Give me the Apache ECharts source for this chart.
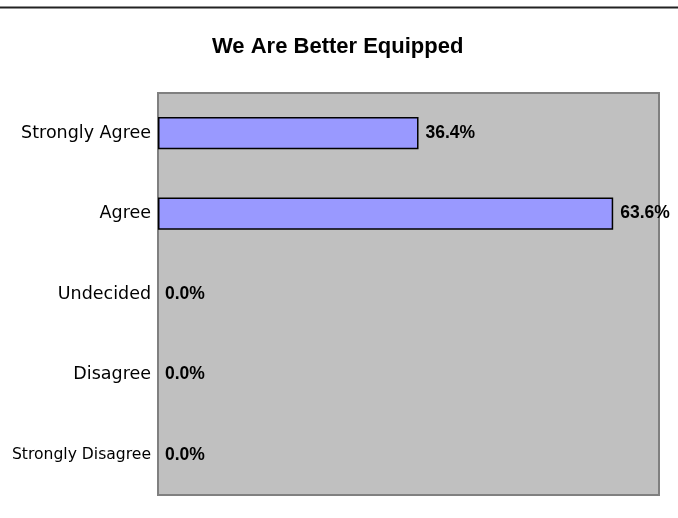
<!DOCTYPE html>
<html><head><meta charset="utf-8">
<script src="https://cdn.jsdelivr.net/npm/echarts@6/dist/echarts.min.js"></script>
<style>html,body{margin:0;padding:0;background:#fff}#c{width:678px;height:518px}</style>
</head><body><div id="c"></div>
<script>
const categories = ["Strongly Agree", "Agree", "Undecided", "Disagree", "Strongly Disagree"];
const values = [36.4, 63.6, 0.0, 0.0, 0.0];
const title = "We Are Better Equipped";

const barData = values.map(v => v === 0 ? {value: v, itemStyle: {borderWidth: 0}} : {value: v});

const chart = echarts.init(document.getElementById('c'), null, {renderer: 'canvas'});
chart.setOption({
  animation: false,
  backgroundColor: '#ffffff',
  title: {
    text: title, left: 207, top: 31,
    textStyle: {fontFamily: 'Liberation Sans, Arial', fontSize: 22, fontWeight: 'bold', color: '#000'}
  },
  graphic: [{
    type: 'line', shape: {x1: 0, y1: 7.5, x2: 678, y2: 7.5},
    style: {stroke: '#222', lineWidth: 2}
  }],
  grid: {left: 158, right: 19, top: 93, bottom: 23, show: true,
    backgroundColor: '#c0c0c0', borderColor: '#808080', borderWidth: 2},
  xAxis: {type: 'value', min: 0, max: 70, interval: 10, show: false},
  yAxis: {
    type: 'category', data: categories, inverse: true,
    axisLine: {show: true, lineStyle: {color: '#808080', width: 2}},
    axisTick: {show: false},
    axisLabel: {
      margin: 7, color: '#000', fontFamily: 'DejaVu Sans, Tahoma', fontSize: 17.5,
      formatter: v => v === 'Strongly Disagree' ? '{s|' + v + '}' : v,
      rich: {s: {fontSize: 15.6, fontFamily: 'DejaVu Sans, Tahoma', color: '#000'}}
    }
  },
  series: [{
    type: 'bar', data: barData, barWidth: '40%',
    itemStyle: {color: '#9999ff', borderColor: '#000', borderWidth: 1.5},
    label: {show: true, position: 'right', distance: 7, color: '#000',
      fontFamily: 'Liberation Sans, Arial', fontWeight: 'bold', fontSize: 17.5,
      formatter: p => p.value.toFixed(1) + '%'}
  }]
});
</script></body></html>
